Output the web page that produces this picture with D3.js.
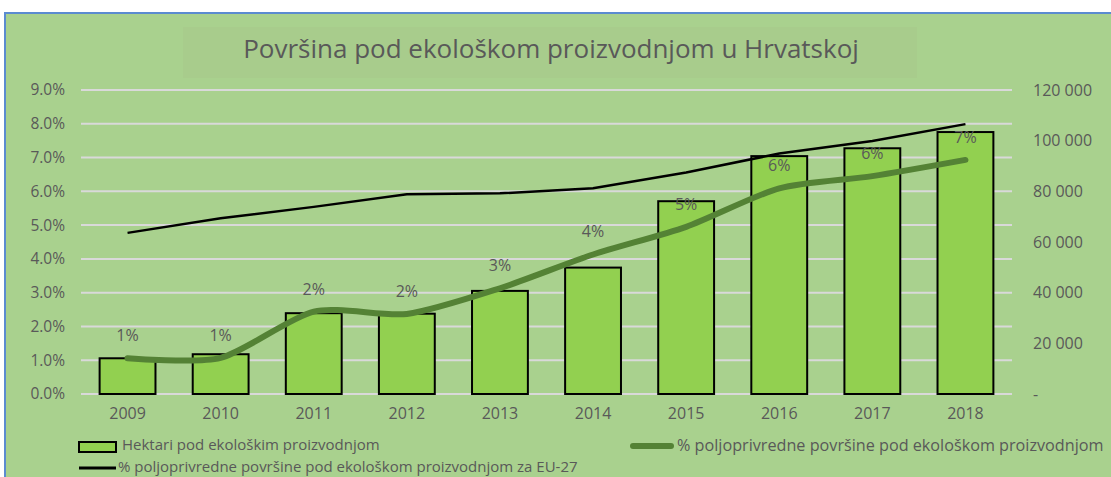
<!DOCTYPE html>
<html>
<head>
<meta charset="utf-8">
<script src="https://cdn.jsdelivr.net/npm/d3@7"></script>
<style>
  html, body { margin: 0; padding: 0; background: #fff; }
  text { font-family: "Open Sans", "Noto Sans", sans-serif; fill: #595959; }
</style>
</head>
<body>
<div id="chart"></div>
<script>
// Podaci očitani sa slike
const years = ['2009', '2010', '2011', '2012', '2013', '2014', '2015', '2016', '2017', '2018'];
const hectares = [14100, 15700, 31900, 31700, 40700, 49900, 76100, 93900, 97000, 103400];
const hrShare = [1.06, 1.07, 2.44, 2.37, 3.13, 4.13, 4.95, 6.09, 6.45, 6.93];
const euShare = [4.77, 5.20, 5.54, 5.91, 5.94, 6.09, 6.56, 7.12, 7.49, 7.99];
const leftTicks = [0, 1, 2, 3, 4, 5, 6, 7, 8, 9];
const rightTicks = [0, 20000, 40000, 60000, 80000, 100000, 120000];

const W = 1111, H = 477;
const margin = { top: 90, right: 99, bottom: 83, left: 81 };
const width = W - margin.left - margin.right;
const height = H - margin.top - margin.bottom;

const svg = d3.select('#chart')
  .append('svg')
  .attr('width', W)
  .attr('height', H);

// chart area background + frame
svg.append('rect')
  .attr('x', 5).attr('y', 13)
  .attr('width', W).attr('height', H)
  .attr('fill', '#a9d18e')
  .attr('stroke', '#5b8bd0')
  .attr('stroke-width', 2);

// title box
svg.append('rect')
  .attr('x', 183).attr('y', 27)
  .attr('width', 734).attr('height', 51)
  .attr('fill', '#a8cc8c');

svg.append('text')
  .attr('x', 551).attr('y', 58)
  .attr('text-anchor', 'middle')
  .style('font-size', '26px')
  .text('Površina pod ekološkom proizvodnjom u Hrvatskoj');

const g = svg.append('g')
  .attr('transform', `translate(${margin.left}, ${margin.top})`);

const x = d3.scaleBand()
  .domain(years)
  .range([0, width])
  .paddingInner(0.4)
  .paddingOuter(0.2);

const yL = d3.scaleLinear().domain([0, 9]).range([height, 0]);
const yR = d3.scaleLinear().domain([0, 120000]).range([height, 0]);

// gridlines
g.append('g')
  .selectAll('line')
  .data(leftTicks)
  .enter().append('line')
  .attr('x1', 0).attr('x2', width)
  .attr('y1', d => yL(d)).attr('y2', d => yL(d))
  .attr('stroke', '#d9d9d9')
  .attr('stroke-width', 2);

// left axis
const axL = g.append('g')
  .call(d3.axisLeft(yL).tickValues(leftTicks).tickSize(0).tickPadding(16)
    .tickFormat(d => d3.format('.1%')(d / 100)));
axL.select('.domain').remove();
axL.selectAll('text').style('font-size', '15.5px').attr('fill', '#595959');

// right axis
const loc = d3.formatLocale({ decimal: ',', thousands: ' ', grouping: [3], currency: ['', ''] });
const axR = g.append('g')
  .attr('transform', `translate(${width}, 0)`)
  .call(d3.axisRight(yR).tickValues(rightTicks).tickSize(0).tickPadding(21)
    .tickFormat(d => d === 0 ? '-' : loc.format(',')(d)));
axR.select('.domain').remove();
axR.selectAll('text').style('font-size', '16px').attr('fill', '#595959');

// x axis
const axX = g.append('g')
  .attr('transform', `translate(0, ${height})`)
  .call(d3.axisBottom(x).tickSize(0).tickPadding(14));
axX.select('.domain').remove();
axX.selectAll('text').style('font-size', '16px').attr('fill', '#595959');

// bars
g.selectAll('.bar')
  .data(years)
  .enter().append('rect')
  .attr('class', 'bar')
  .attr('x', d => x(d))
  .attr('width', x.bandwidth())
  .attr('y', (d, i) => yR(hectares[i]))
  .attr('height', (d, i) => height - yR(hectares[i]))
  .attr('fill', '#92d050')
  .attr('stroke', '#000')
  .attr('stroke-width', 2);

const cx = d => x(d) + x.bandwidth() / 2;

// EU-27 line
g.append('path')
  .datum(years)
  .attr('fill', 'none')
  .attr('stroke', '#000')
  .attr('stroke-width', 2.5)
  .attr('d', d3.line().x(d => cx(d)).y((d, i) => yL(euShare[i])));

// Croatia smoothed line
g.append('path')
  .datum(years)
  .attr('fill', 'none')
  .attr('stroke', '#548235')
  .attr('stroke-width', 6)
  .attr('stroke-linecap', 'round')
  .attr('d', d3.line().curve(d3.curveCardinal.tension(0.25))
    .x(d => cx(d)).y((d, i) => yL(hrShare[i])));

// data labels
g.selectAll('.lbl')
  .data(years)
  .enter().append('text')
  .attr('class', 'lbl')
  .attr('x', d => cx(d))
  .attr('y', (d, i) => yL(hrShare[i]) - 17)
  .attr('text-anchor', 'middle')
  .style('font-size', '16px')
  .text((d, i) => Math.round(hrShare[i]) + '%');

// legend
const leg = svg.append('g');
leg.append('rect')
  .attr('x', 79).attr('y', 442).attr('width', 37).attr('height', 10)
  .attr('fill', '#92d050').attr('stroke', '#000').attr('stroke-width', 2);
leg.append('text').attr('x', 122).attr('y', 450).style('font-size', '15px')
  .text('Hektari pod ekološkim proizvodnjom');

leg.append('line')
  .attr('x1', 633).attr('x2', 671).attr('y1', 446).attr('y2', 446)
  .attr('stroke', '#548235').attr('stroke-width', 6).attr('stroke-linecap', 'round');
leg.append('text').attr('x', 677).attr('y', 451).style('font-size', '16.2px')
  .text('% poljoprivredne površine pod ekološkom proizvodnjom');

leg.append('line')
  .attr('x1', 79).attr('x2', 116).attr('y1', 468).attr('y2', 468)
  .attr('stroke', '#000').attr('stroke-width', 3);
leg.append('text').attr('x', 118).attr('y', 472).style('font-size', '15px')
  .text('% poljoprivredne površine pod ekološkom proizvodnjom za EU-27');
</script>
</body>
</html>
